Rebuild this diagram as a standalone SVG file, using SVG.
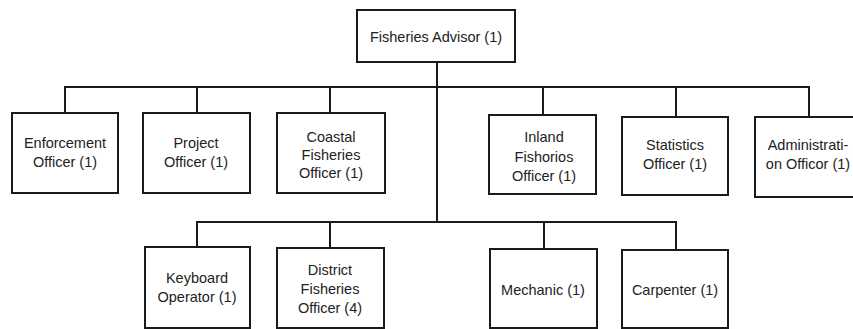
<svg xmlns="http://www.w3.org/2000/svg" width="853" height="329" viewBox="0 0 853 329">
<style>
.box{fill:#fff;stroke:#1a1a1a;stroke-width:2}
.ln{stroke:#1a1a1a;stroke-width:2;fill:none}
text{font-family:"Liberation Sans",Arial,sans-serif;font-size:14.5px;fill:#222;text-anchor:middle}
</style>
<rect width="853" height="329" fill="#fff"/>
<g id="connectors">
<line class="ln" x1="437" y1="62" x2="437" y2="222"/>
<polyline class="ln" points="65,113 65,87 809,87 809,117"/>
<line class="ln" x1="197" y1="87" x2="197" y2="113"/>
<line class="ln" x1="330" y1="87" x2="330" y2="113"/>
<line class="ln" x1="543" y1="87" x2="543" y2="115"/>
<line class="ln" x1="676" y1="87" x2="676" y2="117"/>
<polyline class="ln" points="197,247 197,222 676,222 676,250"/>
<line class="ln" x1="330" y1="222" x2="330" y2="248"/>
<line class="ln" x1="544" y1="222" x2="544" y2="249"/>
</g>
<g id="fisheries-advisor">
<rect class="box" x="357" y="10" width="158" height="52"/>
<text x="436" y="42">Fisheries Advisor (1)</text>
</g>
<g id="enforcement-officer">
<rect class="box" x="12" y="113" width="106" height="80"/>
<text x="65" y="148">Enforcement</text>
<text x="65" y="167">Officer (1)</text>
</g>
<g id="project-officer">
<rect class="box" x="143" y="113" width="107" height="80"/>
<text x="196" y="148">Project</text>
<text x="196" y="167">Officer (1)</text>
</g>
<g id="coastal-fisheries-officer">
<rect class="box" x="277" y="113" width="108" height="80"/>
<text x="331" y="142">Coastal</text>
<text x="331" y="160">Fisheries</text>
<text x="331" y="178">Officer (1)</text>
</g>
<g id="inland-fisheries-officer">
<rect class="box" x="489" y="115" width="107" height="79"/>
<text x="544" y="142">Inland</text>
<text x="544" y="162">Fishorios</text>
<text x="544" y="181">Officer (1)</text>
</g>
<g id="statistics-officer">
<rect class="box" x="622" y="117" width="106" height="78"/>
<text x="675" y="150">Statistics</text>
<text x="675" y="169">Officer (1)</text>
</g>
<g id="administration-officer">
<rect class="box" x="755" y="117" width="106" height="80"/>
<text x="808" y="150">Administrati-</text>
<text x="808" y="169">on Officor (1)</text>
</g>
<g id="keyboard-operator">
<rect class="box" x="145" y="247" width="105" height="81"/>
<text x="197" y="283">Keyboard</text>
<text x="197" y="302">Operator (1)</text>
</g>
<g id="district-fisheries-officer">
<rect class="box" x="277" y="248" width="107" height="80"/>
<text x="330" y="275">District</text>
<text x="330" y="294">Fisheries</text>
<text x="330" y="313">Officer (4)</text>
</g>
<g id="mechanic">
<rect class="box" x="490" y="249" width="107" height="79"/>
<text x="543" y="295">Mechanic (1)</text>
</g>
<g id="carpenter">
<rect class="box" x="622" y="250" width="106" height="78"/>
<text x="675" y="295">Carpenter (1)</text>
</g>
</svg>
